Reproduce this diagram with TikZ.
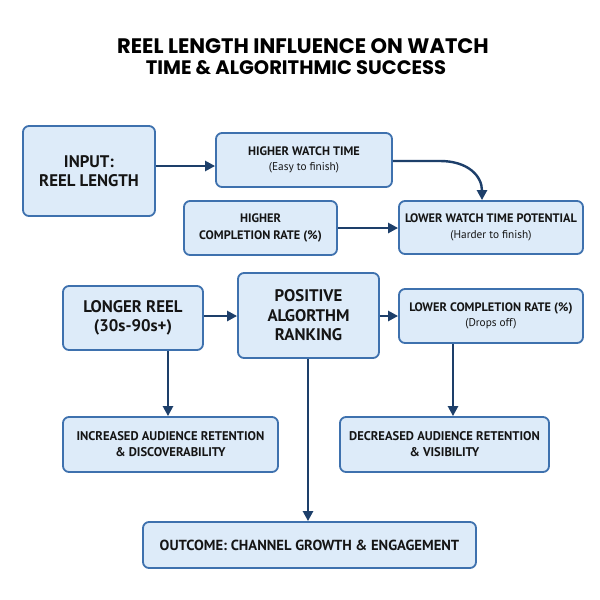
\documentclass[tikz,border=0pt]{standalone}
\usepackage{fontspec}
\setmainfont{PT Sans}
\newfontfamily\titlefont{Poppins}
\usetikzlibrary{arrows.meta,calc}
\definecolor{boxfill}{HTML}{DDEBF9}
\definecolor{boxline}{HTML}{3E71AE}
\definecolor{arrowcol}{HTML}{1D3F6A}
\definecolor{txt}{HTML}{151515}
\tikzset{
  box/.style={draw=boxline, fill=boxfill, line width=1.8pt, rounded corners=6pt,
    align=center, inner sep=0pt, text=txt},
  arr/.style={draw=arrowcol, line width=2.4pt, -{Triangle[length=10pt,width=10pt]}},
  ttl/.style={font=\titlefont\bfseries, text=black, inner sep=0pt},
}
\newcommand{\bigb}{\bfseries\fontsize{16.8}{19.5}\selectfont}
\newcommand{\midb}{\bfseries\fontsize{12.3}{16}\selectfont}
\newcommand{\smr}{\mdseries\fontsize{11.3}{15}\selectfont}
\begin{document}
\begin{tikzpicture}[x=1pt,y=-1pt]
\useasboundingbox[fill=white] (0,0) rectangle (600,600);
\node[ttl, font=\titlefont\bfseries\fontsize{21}{24}\selectfont] (t1) at (303,46) {REEL LENGTH INFLUENCE ON WATCH};
\node[ttl, font=\titlefont\bfseries\fontsize{19.5}{24}\selectfont] (t2) at (296,68) {TIME \& ALGORITHMIC SUCCESS};

\node[box, minimum width=132pt, minimum height=90pt, font=\bigb] (inp) at (89,171) {INPUT:\\REEL LENGTH};
\node[box, minimum width=176pt, minimum height=54pt] (hwt) at (304,160) {{\midb HIGHER WATCH TIME}\\[3pt]{\smr (Easy to finish)}};
\node[box, minimum width=153pt, minimum height=54pt, font=\bfseries\fontsize{12.3}{17.5}\selectfont] (hcr) at (260.5,228) {HIGHER\\COMPLETION RATE (\%)};
\node[box, minimum width=184pt, minimum height=53pt] (lwt) at (491,227.5) {{\midb LOWER WATCH TIME POTENTIAL}\\[4pt]{\smr (Harder to finish)}};
\node[box, minimum width=140pt, minimum height=64pt, font=\bigb] (lon) at (133,318) {LONGER REEL\\(30s-90s+)};
\node[box, minimum width=141pt, minimum height=85pt, font=\bigb] (pos) at (308.5,315.5) {POSITIVE\\ALGORTHM\\RANKING};
\node[box, minimum width=184pt, minimum height=54pt] (lcr) at (491,316) {{\midb LOWER COMPLETION RATE (\%)}\\[3pt]{\smr (Drops off)}};
\node[box, minimum width=215pt, minimum height=55pt, font=\bfseries\fontsize{12.6}{16}\selectfont] (inc) at (170.5,444.5) {INCREASED AUDIENCE RETENTION\\\& DISCOVERABILITY};
\node[box, minimum width=209pt, minimum height=55pt, font=\bfseries\fontsize{12.6}{16}\selectfont] (dec) at (444.5,444.5) {DECREASED AUDIENCE RETENTION\\\& VISIBILITY};
\node[box, minimum width=333pt, minimum height=46pt, font=\bfseries\fontsize{14.6}{16}\selectfont] (out) at (309.5,545) {OUTCOME: CHANNEL GROWTH \& ENGAGEMENT};

\draw[arr] (inp.east |- 0,166) -- (hwt.west |- 0,166);
\draw[arr] (hwt.east |- 0,161) -- (440,161) .. controls (468,161) and (482,176) .. ($(lwt.north)+(-9,0)$);
\draw[arr] (hcr.east) -- (lwt.west |- hcr.east);
\draw[arr] (lon.east |- 0,316) -- (pos.west |- 0,316);
\draw[arr] (pos.east |- 0,316) -- (lcr.west |- 0,316);
\draw[arr] (168,0 |- lon.south) -- (168,0 |- inc.north);
\draw[arr] (453,0 |- lcr.south) -- (453,0 |- dec.north);
\draw[arr] (308,0 |- pos.south) -- (308,0 |- out.north);
\end{tikzpicture}
\end{document}
